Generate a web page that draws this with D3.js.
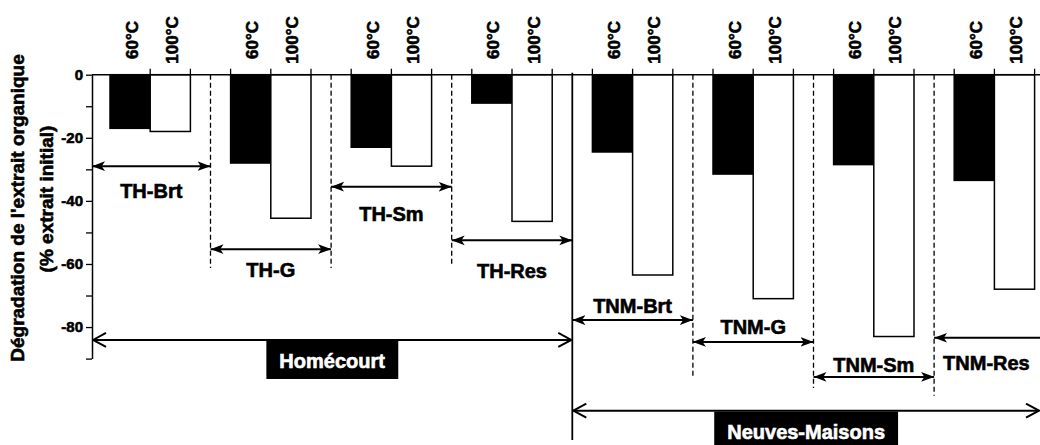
<!DOCTYPE html>
<html>
<head>
<meta charset="utf-8">
<script src="https://cdn.jsdelivr.net/npm/d3@7"></script>
<style>
body { margin: 0; background: #fff; }
text { font-family: "Liberation Sans", Arial, sans-serif; font-weight: bold; stroke: #000; stroke-width: 0.6px; }
text.inv { stroke: #fff; }
</style>
</head>
<body>
<script>
// data
var groups = ["TH-Brt", "TH-G", "TH-Sm", "TH-Res", "TNM-Brt", "TNM-G", "TNM-Sm", "TNM-Res"];
var temps = ["60°C", "100°C"];
var deg60 = [-17, -28, -23, -9, -24.5, -31.5, -28.5, -33.5];
var deg100 = [-18, -45.5, -29, -46.5, -63.5, -71, -83, -68];
var yTicks = [0, -10, -20, -30, -40, -50, -60, -70, -80, -90];
var sites = ["Homécourt", "Neuves-Maisons"];
var siteFirst = [0, 4];
var siteLast = [3, 7];

// annotation layout, in y units
var arrowLevel = [-29, -55.3, -35.5, -52.5, -77.8, -84.7, -95.8, -83.4];
var labelDy = [32, 28, 34, 38, -7, -8, -5, 32];
var sepBottom = [-61.3, -61.3, -60.3, -115.8, -95.8, -99.3, -101.8];
var siteLevel = [-84.1, -106.5];

var width = 1040, height = 445;
var axisX = 92;

var svg = d3.select("body").append("svg")
    .attr("width", width)
    .attr("height", height);

// scales
var x0 = d3.scaleBand().domain(groups).range([110, 110 + 8 * 120.6]);
var x1 = d3.scaleBand().domain(temps).range([0, x0.step() * 2 / 3]);
var y = d3.scaleLinear().domain([-90, 0]).range([358.6, 74.7]);

function sep(i) { return x0(groups[i]) + x0.step() * 5 / 6; }
function spanLeft(i) { return i === 0 ? axisX : sep(i - 1); }
function spanRight(i) { return i < groups.length - 1 ? sep(i) : sep(i - 1) + x0.step(); }

// arrow markers
var defs = svg.append("defs");
defs.append("marker")
    .attr("id", "head")
    .attr("viewBox", "0 0 12 10")
    .attr("refX", 12).attr("refY", 5)
    .attr("markerWidth", 13).attr("markerHeight", 11)
    .attr("markerUnits", "userSpaceOnUse")
    .attr("orient", "auto-start-reverse")
    .append("path")
    .attr("d", "M0,0.5 L12,5 L0,9.5 L3,5 Z")
    .attr("fill", "#000");
defs.append("marker")
    .attr("id", "open")
    .attr("viewBox", "0 0 16 16")
    .attr("refX", 15).attr("refY", 8)
    .attr("markerWidth", 16).attr("markerHeight", 16)
    .attr("markerUnits", "userSpaceOnUse")
    .attr("orient", "auto-start-reverse")
    .append("path")
    .attr("d", "M2,1 L15,8 L2,15")
    .attr("fill", "none")
    .attr("stroke", "#000")
    .attr("stroke-width", 2);

// bars
var rows = groups.map(function(g, i) {
    return [{ g: g, t: temps[0], v: deg60[i] }, { g: g, t: temps[1], v: deg100[i] }];
});

var gBars = svg.selectAll(".grp")
    .data(rows)
    .enter().append("g")
    .attr("transform", function(d) { return "translate(" + x0(d[0].g) + ",0)"; });

gBars.selectAll("rect")
    .data(function(d) { return d; })
    .enter().append("rect")
    .attr("x", function(d) { return x1(d.t); })
    .attr("y", y(0))
    .attr("width", x1.bandwidth())
    .attr("height", function(d) { return y(d.v) - y(0); })
    .attr("fill", function(d) { return d.t === temps[0] ? "#000" : "#fff"; })
    .attr("stroke", "#000")
    .attr("stroke-width", 1.5);

// temperature labels
gBars.selectAll(".tl")
    .data(function(d) { return d; })
    .enter().append("text")
    .attr("transform", function(d) {
        return "translate(" + (x1(d.t) + x1.bandwidth() / 2 + 1.5) + ",40) rotate(-90)";
    })
    .attr("dy", ".35em")
    .attr("text-anchor", "middle")
    .style("font-size", "17px")
    .text(function(d) { return d.t; });

// x axis line and ticks above
svg.append("line")
    .attr("x1", axisX).attr("x2", width)
    .attr("y1", y(0)).attr("y2", y(0))
    .attr("stroke", "#000").attr("stroke-width", 1.5);

var edges = [];
groups.forEach(function(g, i) {
    if (i > 0) edges.push(x0(g));
    edges.push(x0(g) + x1(temps[1]));
    edges.push(x0(g) + x1(temps[1]) + x1.bandwidth());
});
svg.selectAll(".xt")
    .data(edges)
    .enter().append("line")
    .attr("x1", function(d) { return d; }).attr("x2", function(d) { return d; })
    .attr("y1", y(0)).attr("y2", y(0) - 6)
    .attr("stroke", "#000").attr("stroke-width", 1.3);

// y axis
var yAxis = svg.append("g")
    .attr("transform", "translate(" + axisX + ",0)")
    .call(d3.axisLeft(y)
        .tickValues(yTicks)
        .tickSize(6)
        .tickSizeOuter(0)
        .tickPadding(3)
        .tickFormat(function(d) { return d % 20 === 0 ? String(d) : ""; }));
yAxis.select(".domain").attr("stroke-width", 1.5);
yAxis.selectAll(".tick line").attr("stroke-width", 1.3);
yAxis.selectAll(".tick text")
    .style("font-size", "15px")
    .style("font-family", "'Liberation Sans', Arial, sans-serif")
    .style("font-weight", "bold")
    .attr("fill", "#000");

// y axis title
svg.append("text")
    .attr("transform", "translate(24,208) rotate(-90)")
    .attr("text-anchor", "middle")
    .style("font-size", "19px")
    .text("Dégradation de l'extrait organique");
svg.append("text")
    .attr("transform", "translate(53,199) rotate(-90)")
    .attr("text-anchor", "middle")
    .style("font-size", "19px")
    .text("(% extrait initial)");

// separators between groups
svg.selectAll(".sep")
    .data(d3.range(groups.length - 1))
    .enter().append("line")
    .attr("x1", function(i) { return sep(i); }).attr("x2", function(i) { return sep(i); })
    .attr("y1", y(0))
    .attr("y2", function(i) { return y(sepBottom[i]); })
    .attr("stroke", "#000")
    .attr("stroke-width", 1.3)
    .attr("stroke-dasharray", "5,3")
    .filter(function(i) { return i === 3; }).remove();

// group arrows and labels
groups.forEach(function(g, i) {
    var ay = y(arrowLevel[i]);
    svg.append("line")
        .attr("x1", spanLeft(i)).attr("x2", spanRight(i))
        .attr("y1", ay).attr("y2", ay)
        .attr("stroke", "#000").attr("stroke-width", 2)
        .attr("marker-start", "url(#head)")
        .attr("marker-end", "url(#head)");
    svg.append("text")
        .attr("x", (spanLeft(i) + spanRight(i)) / 2 + (i === 7 ? -8 : 0))
        .attr("y", ay + labelDy[i])
        .attr("text-anchor", "middle")
        .style("font-size", "20px")
        .text(g);
});

// site arrows and boxed labels
sites.forEach(function(s, k) {
    var ay = y(siteLevel[k]);
    var left = spanLeft(siteFirst[k]);
    var right = k === 0 ? spanRight(siteLast[k]) : width;
    svg.append("line")
        .attr("x1", left + 1).attr("x2", right - 1)
        .attr("y1", ay).attr("y2", ay)
        .attr("stroke", "#000").attr("stroke-width", 2)
        .attr("marker-start", "url(#open)")
        .attr("marker-end", "url(#open)");
    var cx = (left + right) / 2;
    var box = svg.append("rect").attr("fill", "#000");
    var t = svg.append("text")
        .attr("class", "inv")
        .attr("x", cx)
        .attr("y", ay + 28)
        .attr("text-anchor", "middle")
        .attr("fill", "#fff")
        .style("font-size", "20px")
        .text(s);
    var bb = t.node().getBBox();
    box.attr("x", bb.x - 13).attr("width", bb.width + 26)
        .attr("y", ay + 1).attr("height", 38);
});

// solid separator between the two sites
svg.append("line")
    .attr("x1", sep(3)).attr("x2", sep(3))
    .attr("y1", y(0) - 2).attr("y2", y(sepBottom[3]))
    .attr("stroke", "#000").attr("stroke-width", 1.8);
</script>
</body>
</html>
